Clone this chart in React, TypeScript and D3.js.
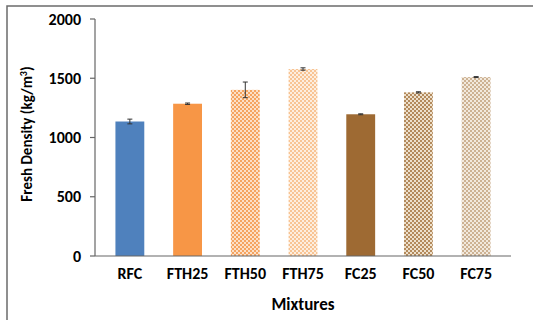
import React from "react";
import * as d3 from "d3";

const categories = ["RFC", "FTH25", "FTH50", "FTH75", "FC25", "FC50", "FC75"];
const values = [1135, 1285, 1402, 1578, 1196, 1381, 1510];
const errors = [20, 6, 66, 10, 4, 5, 4];
const yTicks = [0, 500, 1000, 1500, 2000];
const fills = ["#4F81BD", "#F79646", "url(#pFTH50)", "url(#pFTH75)", "#9E6A33", "url(#pFC50)", "url(#pFC75)"];

const W = 533;
const H = 320;

export default function App() {
  const x = d3.scaleBand<string>().domain(categories).range([101, 505]).paddingInner(0.5).paddingOuter(0.25);
  const y = d3.scaleLinear().domain([0, 2000]).range([256, 19]);
  const font = "Carlito, 'Open Sans', 'Liberation Sans', sans-serif";
  return (
    <svg width={W} height={H} style={{ position: "absolute", left: 0, top: 0 }}>
      <defs>
        <pattern id="pFTH50" width="4" height="4" patternUnits="userSpaceOnUse">
          <rect width="4" height="4" fill="#FCE0C8" />
          <rect width="2" height="2" fill="#F5A460" />
          <rect x="2" y="2" width="2" height="2" fill="#F5A460" />
        </pattern>
        <pattern id="pFTH75" width="4" height="4" patternUnits="userSpaceOnUse">
          <rect width="4" height="4" fill="#FDEEDF" />
          <rect width="2" height="2" fill="#F8C494" />
          <rect x="2" y="2" width="2" height="2" fill="#F8C494" />
        </pattern>
        <pattern id="pFC50" width="4" height="4" patternUnits="userSpaceOnUse">
          <rect width="4" height="4" fill="#EDE0CC" />
          <rect width="2" height="2" fill="#B38A5C" />
          <rect x="2" y="2" width="2" height="2" fill="#B38A5C" />
        </pattern>
        <pattern id="pFC75" width="4" height="4" patternUnits="userSpaceOnUse">
          <rect width="4" height="4" fill="#F2E9DD" />
          <rect width="2" height="2" fill="#CDB293" />
          <rect x="2" y="2" width="2" height="2" fill="#CDB293" />
        </pattern>
      </defs>
      <rect x={0} y={0} width={W} height={H} fill="#fff" />
      <rect x={7} y={6} width={W + 10} height={H + 10} fill="none" stroke="#6b6b6b" strokeWidth={1.5} />
      {categories.map((c, i) => (
        <rect key={c} x={x(c)} y={y(values[i])} width={x.bandwidth()} height={y(0) - y(values[i])} fill={fills[i]} />
      ))}
      {categories.map((c, i) => {
        const cx = (x(c) as number) + x.bandwidth() / 2;
        return (
          <g key={c + "e"} stroke="#333" strokeWidth={1}>
            <line x1={cx} x2={cx} y1={y(values[i] + errors[i])} y2={y(values[i] - errors[i])} />
            <line x1={cx - 2.5} x2={cx + 2.5} y1={y(values[i] + errors[i])} y2={y(values[i] + errors[i])} />
            <line x1={cx - 2.5} x2={cx + 2.5} y1={y(values[i] - errors[i])} y2={y(values[i] - errors[i])} />
          </g>
        );
      })}
      <line x1={95} x2={95} y1={y(2000)} y2={y(0)} stroke="#666" strokeWidth={1.2} />
      <line x1={95} x2={511} y1={y(0)} y2={y(0)} stroke="#666" strokeWidth={1.2} />
      {yTicks.map((t) => (
        <g key={t}>
          <line x1={90} x2={95} y1={y(t)} y2={y(t)} stroke="#666" strokeWidth={1.2} />
          <text x={81} y={y(t)} dy="0.35em" textAnchor="end" fontFamily={font} fontWeight="bold" fontSize={16} fill="#000">
            {t}
          </text>
        </g>
      ))}
      {categories.map((c) => (
        <text key={c + "l"} x={(x(c) as number) + x.bandwidth() / 2} y={273} dy="0.35em" textAnchor="middle" fontFamily={font} fontWeight="bold" fontSize={16} fill="#000">
          {c}
        </text>
      ))}
      <text x={303} y={304} dy="0.35em" textAnchor="middle" fontFamily={font} fontWeight="bold" fontSize={17} fill="#000">
        Mixtures
      </text>
      <text transform="translate(27,134) rotate(-90)" dy="0.35em" textAnchor="middle" fontFamily={font} fontWeight="bold" fontSize={15} fill="#000">
        Fresh Density (kg/m<tspan dy="-5" fontSize={10}>3</tspan><tspan dy="5">)</tspan>
      </text>
    </svg>
  );
}
